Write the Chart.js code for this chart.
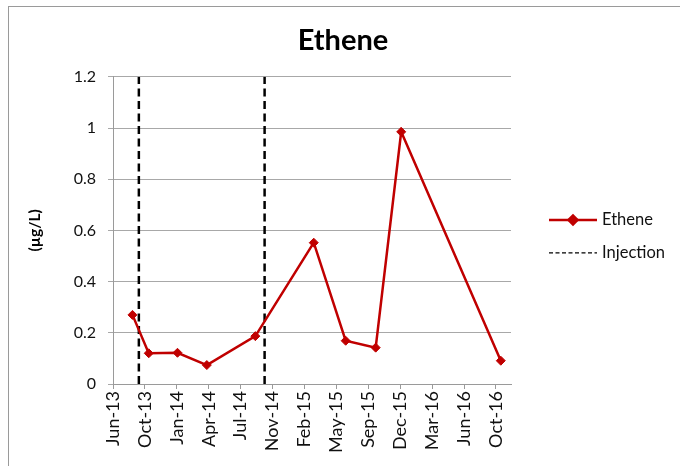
<!DOCTYPE html>
<html>
<head>
<meta charset="utf-8">
<script src="https://cdn.jsdelivr.net/npm/chart.js@4.4.1/dist/chart.umd.min.js"></script>
<style>
  html, body { margin: 0; padding: 0; background: #fff; }
  #frame { position: absolute; left: 8px; top: 6px; width: 700px; height: 500px; border: 1px solid #9a9a9a; box-sizing: border-box; }
  #wrap { position: absolute; left: 0; top: 0; width: 680px; height: 466px; }
</style>
</head>
<body>
<div id="frame"></div>
<div id="wrap"><canvas id="c"></canvas></div>
<script>
// ---- data ----
const sampleDates = ['2013-08-25','2013-10-15','2014-01-13','2014-04-15','2014-09-14','2015-03-16','2015-06-24','2015-09-26','2015-12-15','2016-10-22'];
const etheneValues = [0.27, 0.12, 0.122, 0.074, 0.187, 0.552, 0.169, 0.142, 0.985, 0.091];
const injectionDates = ['2013-09-14','2014-10-13'];
const tickLabels = ['Jun-13','Oct-13','Jan-14','Apr-14','Jul-14','Nov-14','Feb-15','May-15','Sep-15','Dec-15','Mar-16','Jun-16','Oct-16'];
const axisStartDate = '2013-06-25';
const axisEndDate = '2016-11-23';
const tickStepDays = 100;
const yMin = 0, yMax = 1.2, yStep = 0.2;
const seriesNames = ['Ethene', 'Injection'];

const day = d => Date.parse(d + 'T00:00:00Z') / 86400000;
const xMin = day(axisStartDate), xMax = day(axisEndDate);

const etheneData = sampleDates.map((d, i) => ({ x: day(d), y: etheneValues[i] }));
const injectionData = [];
injectionDates.forEach((d, i) => {
  if (i > 0) injectionData.push({ x: day(d), y: null });
  injectionData.push({ x: day(d), y: yMin });
  injectionData.push({ x: day(d), y: yMax });
});

const FONT = 'Lato';
Chart.defaults.font.family = FONT;
Chart.defaults.color = '#111';

const legendPlugin = {
  id: 'sideLegend',
  afterDraw(chart) {
    const ctx = chart.ctx, a = chart.chartArea;
    const x0 = a.right + 38, len = 48;
    const mid = (a.top + a.bottom) / 2 + 6;
    ctx.save();
    ctx.font = '16.5px ' + FONT;
    ctx.textBaseline = 'middle';
    ctx.fillStyle = '#111';
    chart.data.datasets.forEach((ds, i) => {
      const y = mid + (i - 0.5) * 33;
      ctx.beginPath();
      ctx.strokeStyle = ds.borderColor;
      ctx.lineWidth = ds.legendLineWidth;
      ctx.setLineDash(ds.legendDash);
      ctx.moveTo(x0, y);
      ctx.lineTo(x0 + len, y);
      ctx.stroke();
      ctx.setLineDash([]);
      if (ds.pointRadius > 0) {
        Chart.helpers.drawPoint(ctx, { pointStyle: ds.pointStyle, radius: ds.pointRadius, borderWidth: 1 }, x0 + len / 2, y);
        ctx.fillStyle = ds.pointBackgroundColor;
        ctx.fill();
        ctx.fillStyle = '#111';
      }
      ctx.fillText(ds.label, x0 + len + 5, y);
    });
    ctx.restore();
  }
};

new Chart(document.getElementById('c'), {
  type: 'line',
  data: {
    datasets: [
      {
        label: seriesNames[0],
        data: etheneData,
        borderColor: '#C00000',
        backgroundColor: '#C00000',
        pointBackgroundColor: '#C00000',
        pointBorderColor: '#C00000',
        borderWidth: 2.5,
        pointStyle: 'rectRot',
        pointRadius: 4.5,
        pointBorderWidth: 1,
        legendDash: [],
        legendLineWidth: 2.5,
        tension: 0
      },
      {
        label: seriesNames[1],
        data: injectionData,
        borderColor: '#000',
        backgroundColor: '#000',
        borderWidth: 2.5,
        borderDash: [8, 4.5],
        pointRadius: 0,
        spanGaps: false,
        legendDash: [4, 2.5],
        legendLineWidth: 1.3,
        tension: 0
      }
    ]
  },
  options: {
    responsive: true,
    maintainAspectRatio: false,
    devicePixelRatio: 1,
    animation: false,
    layout: { padding: { left: 6, right: 0, top: 0, bottom: 0 } },
    plugins: {
      legend: { display: false },
      tooltip: { enabled: false },
      title: {
        display: true,
        text: 'Ethene',
        color: '#000',
        font: { family: FONT, size: 29, weight: 'bold' },
        padding: { top: 23, bottom: 19 }
      }
    },
    scales: {
      x: {
        type: 'linear',
        min: xMin,
        max: xMax,
        offset: false,
        afterFit(s) { s.height = 82; },
        afterBuildTicks(s) {
          s.ticks = tickLabels.map((_, i) => ({ value: xMin + i * tickStepDays }));
        },
        ticks: {
          autoSkip: false,
          minRotation: 90,
          maxRotation: 90,
          padding: 2,
          color: '#111',
          font: { size: 18 },
          callback: (v, i) => tickLabels[i]
        },
        grid: { drawOnChartArea: false, drawTicks: true, tickLength: 5, color: '#9a9a9a', lineWidth: 1 },
        border: { display: true, color: '#9a9a9a', width: 1 }
      },
      y: {
        type: 'linear',
        min: yMin,
        max: yMax,
        afterFit(s) { s.width = 107; },
        ticks: {
          stepSize: yStep,
          padding: 12,
          color: '#111',
          font: { size: 16 },
          callback: v => String(Number(v.toFixed(1)))
        },
        grid: { color: '#a8a8a8', lineWidth: 1, drawTicks: true, tickLength: 5 },
        border: { display: true, color: '#9a9a9a', width: 1 },
        title: {
          display: true,
          text: '(µg/L)',
          color: '#000',
          font: { size: 15.5, weight: 'bold' },
          padding: { top: 20, bottom: 0 }
        }
      },
      yRight: {
        type: 'linear',
        position: 'right',
        display: true,
        afterFit(s) { s.width = 169; },
        ticks: { display: false },
        grid: { display: false, drawTicks: false },
        border: { display: false }
      }
    }
  },
  plugins: [legendPlugin]
});
</script>
</body>
</html>
